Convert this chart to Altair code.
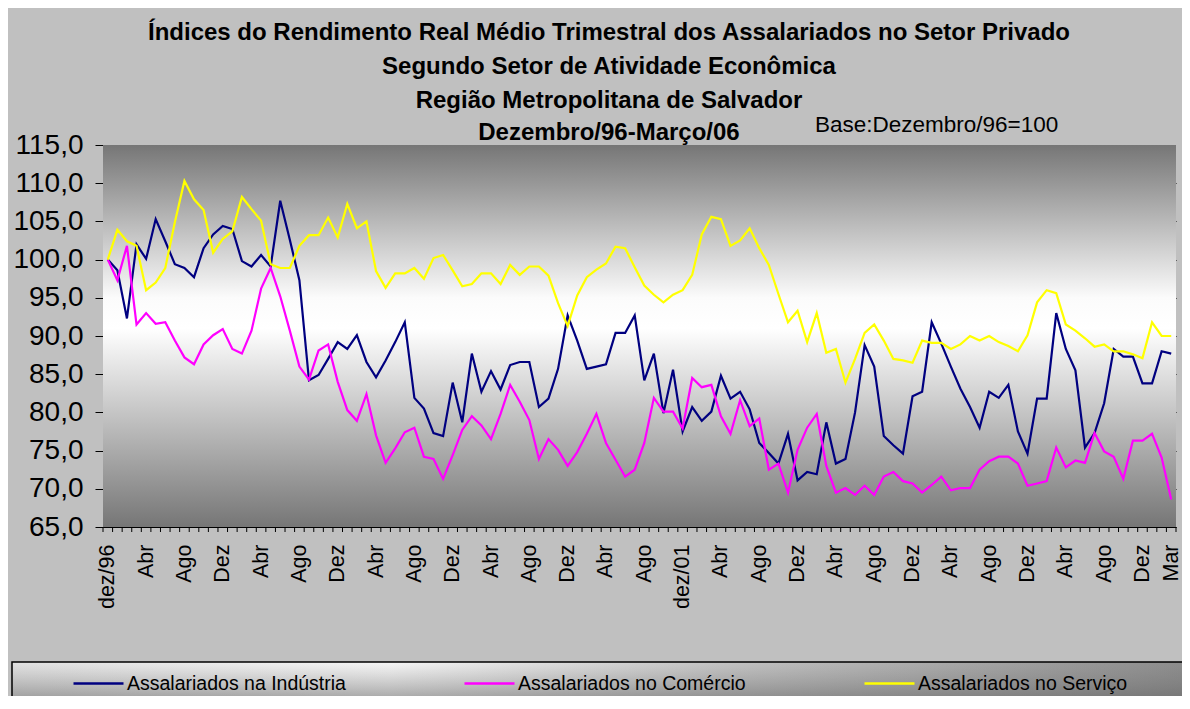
import altair as alt
import pandas as pd

# ---------------- data ----------------
series_names = ["Assalariados na Indústria", "Assalariados no Comércio", "Assalariados no Serviço"]
series_colors = ["#000080", "#ff00ff", "#ffff00"]

industria = [
    100.0, 98.6, 92.3, 102.0, 100.1, 105.3, 102.4, 99.4, 98.9, 97.7,
    101.5, 103.3, 104.4, 104.0, 99.8, 99.1, 100.6, 99.1, 107.7, 102.6,
    97.3, 84.2, 84.9, 87.0, 89.2, 88.3, 90.1, 86.6, 84.6, 86.8,
    89.2, 91.8, 81.9, 80.5, 77.3, 76.9, 83.9, 78.7, 87.7, 82.7,
    85.4, 83.0, 86.2, 86.6, 86.6, 80.7, 81.8, 85.7, 92.7, 89.4,
    85.7, 86.0, 86.3, 90.4, 90.4, 92.7, 84.2, 87.7, 79.9, 85.6,
    77.5, 80.7, 78.9, 80.1, 84.8, 81.8, 82.7, 80.4, 76.0, 74.7,
    73.3, 77.2, 71.1, 72.2, 71.9, 78.7, 73.3, 73.9, 80.0, 88.8,
    86.0, 76.9, 75.7, 74.6, 82.1, 82.7, 91.8, 89.0, 86.0, 83.1,
    80.7, 78.0, 82.7, 81.9, 83.6, 77.5, 74.6, 81.8, 81.8, 93.0,
    88.3, 85.5, 75.4, 77.3, 81.2, 88.3, 87.3, 87.3, 83.8, 83.8,
    88.0, 87.7,
]
comercio = [
    100.0, 97.3, 101.8, 91.5, 93.0, 91.6, 91.8, 89.4, 87.2, 86.3,
    88.9, 90.1, 90.9, 88.3, 87.7, 90.7, 96.2, 98.9, 95.2, 90.7,
    86.0, 84.3, 88.1, 88.9, 84.0, 80.3, 78.9, 82.4, 77.0, 73.4,
    75.3, 77.4, 78.0, 74.2, 73.9, 71.3, 74.4, 77.7, 79.5, 78.3,
    76.5, 79.8, 83.6, 81.4, 79.0, 73.9, 76.5, 75.1, 73.0, 74.8,
    77.2, 79.8, 76.0, 73.8, 71.6, 72.5, 76.0, 81.9, 80.1, 80.1,
    77.9, 84.5, 83.3, 83.6, 79.5, 77.2, 81.6, 78.2, 79.2, 72.5,
    73.3, 69.5, 75.1, 78.0, 79.8, 73.0, 69.5, 70.1, 69.2, 70.4,
    69.2, 71.6, 72.2, 71.0, 70.7, 69.5, 70.5, 71.6, 69.8, 70.1,
    70.1, 72.5, 73.6, 74.2, 74.2, 73.3, 70.4, 70.7, 71.0, 75.4,
    72.8, 73.7, 73.4, 77.3, 74.9, 74.2, 71.3, 76.3, 76.3, 77.2,
    74.1, 68.6,
]
servico = [
    100.0, 103.9, 102.4, 101.8, 96.0, 97.0, 98.9, 104.9, 110.3, 107.9,
    106.5, 100.9, 102.7, 103.7, 108.2, 106.6, 105.1, 99.4, 98.9, 98.9,
    101.8, 103.2, 103.2, 105.5, 102.9, 107.3, 104.1, 105.0, 98.5, 96.3,
    98.2, 98.2, 98.9, 97.5, 100.2, 100.6, 98.6, 96.5, 96.8, 98.2,
    98.2, 96.8, 99.3, 98.0, 99.1, 99.1, 97.9, 94.3, 91.3, 95.3,
    97.7, 98.7, 99.5, 101.7, 101.5, 99.0, 96.6, 95.4, 94.4, 95.4,
    96.0, 98.0, 103.3, 105.6, 105.3, 101.8, 102.5, 104.1, 101.5, 99.3,
    95.5, 91.8, 93.3, 89.2, 93.0, 87.8, 88.3, 83.9, 87.0, 90.4,
    91.5, 89.4, 87.0, 86.8, 86.5, 89.4, 89.1, 89.1, 88.3, 88.9,
    90.0, 89.4, 90.0, 89.2, 88.7, 88.0, 90.1, 94.4, 96.0, 95.6,
    91.5, 90.7, 89.7, 88.6, 88.9, 88.0, 88.0, 87.6, 87.1, 91.8,
    90.0, 90.0,
]

tick_idx = [0, 4, 8, 12, 16, 20, 24, 28, 32, 36, 40, 44, 48, 52, 56,
            60, 64, 68, 72, 76, 80, 84, 88, 92, 96, 100, 104, 108, 111]
tick_text = ["dez/96", "Abr", "Ago", "Dez", "Abr", "Ago", "Dez", "Abr", "Ago", "Dez",
             "Abr", "Ago", "Dez", "Abr", "Ago", "dez/01", "Abr", "Ago", "Dez", "Abr",
             "Ago", "Dez", "Abr", "Ago", "Dez", "Abr", "Ago", "Dez", "Mar"]

y_ticks = [65, 70, 75, 80, 85, 90, 95, 100, 105, 110, 115]

title_lines = [
    "Índices do Rendimento Real Médio Trimestral dos Assalariados no Setor Privado",
    "Segundo Setor de Atividade Econômica",
    "Região Metropolitana de Salvador",
    "Dezembro/96-Março/06",
]
base_note = "Base:Dezembro/96=100"

pt_abbr = ["jan", "fev", "mar", "abr", "mai", "jun", "jul", "ago", "set", "out", "nov", "dez"]
months = []
yy, mm = 1996, 12
for _ in range(len(industria)):
    months.append(f"{pt_abbr[mm - 1]}/{str(yy)[2:]}")
    mm += 1
    if mm > 12:
        mm, yy = 1, yy + 1

rows = []
for name, vals in zip(series_names, [industria, comercio, servico]):
    for i, v in enumerate(vals):
        rows.append({"i": i, "mes": months[i], "serie": name, "valor": v})
df = pd.DataFrame(rows)
bounds = pd.DataFrame({"b": [k - 0.5 for k in range(len(industria) + 1)]})

# ---------------- layout ----------------
W, H = 1073, 382
FONT = "Liberation Sans"
one = alt.Data(values=[{}])

xscale = alt.Scale(domain=[-0.5, len(industria) - 0.5], nice=False, zero=False)
yscale = alt.Scale(domain=[65, 115], nice=False, zero=False)

x_label_expr = "[" + ",".join(f"'{t}'" for t in tick_text) + "][indexof([" + \
    ",".join(str(t) for t in tick_idx) + "], datum.value)]"

x_axis = alt.Axis(values=tick_idx, labelExpr=x_label_expr, labelAngle=270,
                  ticks=False, grid=False, domainColor="black", domainWidth=1,
                  labelFont=FONT, labelFontSize=21.5, labelColor="black",
                  labelPadding=17, labelOverlap=False, title=None)

plot_bg = alt.Chart(one).mark_rect(
    fill=alt.LinearGradient(
        gradient="linear", x1=0, x2=0, y1=0, y2=1,
        stops=[alt.GradientStop(offset=0, color="#767676"),
               alt.GradientStop(offset=0.40, color="#fbfbfb"),
               alt.GradientStop(offset=0.48, color="#ffffff"),
               alt.GradientStop(offset=1, color="#767676")]),
).encode(x=alt.value(0), x2=alt.value(W), y=alt.value(0), y2=alt.value(H))

legend_bg = alt.Chart(one).mark_rect(
    fill=alt.LinearGradient(
        gradient="linear", x1=0, x2=1, y1=0, y2=0,
        stops=[alt.GradientStop(offset=0, color="#e2e2e2"),
               alt.GradientStop(offset=0.32, color="#f6f6f6"),
               alt.GradientStop(offset=0.6, color="#c4c4c4"),
               alt.GradientStop(offset=1, color="#8c8c8c")]),
).encode(x=alt.value(-91), x2=alt.value(W + 12), y=alt.value(517), y2=alt.value(H + 200))

legend_shade = alt.Chart(one).mark_rect(
    fill=alt.LinearGradient(
        gradient="linear", x1=0, x2=0, y1=0, y2=1,
        stops=[alt.GradientStop(offset=0, color="rgba(120,120,120,0)"),
               alt.GradientStop(offset=1, color="rgba(90,90,90,0.7)")]),
    stroke="black", strokeWidth=1.5,
).encode(x=alt.value(-91), x2=alt.value(W + 12), y=alt.value(517), y2=alt.value(565))

xticks = alt.Chart(bounds).mark_rule(color="black", strokeWidth=1).encode(
    x=alt.X("b:Q", scale=xscale, axis=x_axis),
    y=alt.value(H), y2=alt.value(H + 5),
)

lines = alt.Chart(df).mark_line(strokeWidth=2.2).encode(
    x=alt.X("i:Q", scale=xscale, axis=x_axis),
    y=alt.Y("valor:Q", scale=yscale, title=None,
            axis=alt.Axis(values=y_ticks,
                          labelExpr="replace(format(datum.value, '.1f'), '.', ',')",
                          tickSize=8, tickColor="black", domainColor="black",
                          grid=True,
                          gridColor={"condition": {"test": "datum.value >= 115", "value": "transparent"},
                                     "value": "black"},
                          gridWidth=1, gridOpacity=1,
                          labelFont=FONT, labelFontSize=28, labelColor="black",
                          labelPadding=12)),
    color=alt.Color("serie:N", scale=alt.Scale(domain=series_names, range=series_colors),
                    legend=alt.Legend(title=None, orient="none", legendX=-31, legendY=512,
                                      direction="horizontal", columns=3, columnPadding=113,
                                      symbolType="stroke", symbolSize=2500,
                                      symbolStrokeWidth=2.5, labelFont=FONT,
                                      labelFontSize=19.5, labelColor="black",
                                      labelOffset=2, padding=0, labelLimit=400)),
    detail="serie:N",
)

texts = []
for line, ypos in zip(title_lines, [-112, -78, -44, -12]):
    texts.append(alt.Chart(one).mark_text(
        text=line, font=FONT, fontSize=24, fontWeight="bold", color="black",
        align="center", baseline="middle",
    ).encode(x=alt.value(506), y=alt.value(ypos)))
texts.append(alt.Chart(one).mark_text(
    text=base_note, font=FONT, fontSize=22.5, color="black",
    align="left", baseline="middle",
).encode(x=alt.value(712), y=alt.value(-20)))

chart = alt.layer(plot_bg, legend_bg, legend_shade, xticks, lines, *texts).properties(
    width=W, height=H,
    autosize=alt.AutoSizeParams(type="none"),
    padding={"left": 95, "top": 137, "right": 6, "bottom": 169},
    background="#c0c0c0",
).configure_view(stroke=None)

chart.save("out.html", embed_options={"renderer": "svg", "actions": False})
